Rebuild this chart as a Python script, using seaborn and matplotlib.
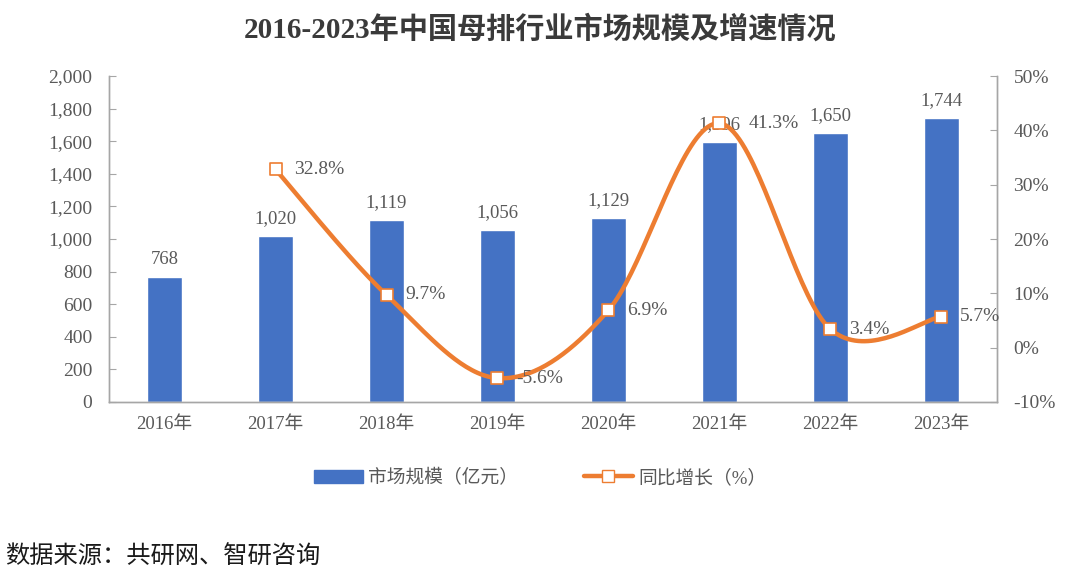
#import libraries
import numpy as np
import pandas as pd
import seaborn as sns
import matplotlib
matplotlib.use('Agg')
import matplotlib.pyplot as plt
from matplotlib.patches import Patch
from matplotlib.lines import Line2D

# data
years = ['2016年', '2017年', '2018年', '2019年', '2020年', '2021年', '2022年', '2023年']
market_size = [768, 1020, 1119, 1056, 1129, 1596, 1650, 1744]
growth_years = [1, 2, 3, 4, 5, 6, 7]
growth_pct = [32.8, 9.7, -5.6, 6.9, 41.3, 3.4, 5.7]

bar_color = '#4472C4'
line_color = '#ED7D31'
grey = '#595959'

sns.set_style('white')
fonts = ['Liberation Serif', 'Noto Sans CJK SC', 'DejaVu Sans']
plt.rcParams['font.family'] = fonts

df = pd.DataFrame({'year': years, 'size': market_size})

fig = plt.figure(figsize=(10.8, 5.78), dpi=100)
ax = fig.add_axes([0.101, 0.3045, 0.822, 0.564])

sns.barplot(data=df, x='year', y='size', color=bar_color, width=0.32,
            saturation=1, ax=ax)
ax.set_xlim(-0.5, 7.5)
ax.set_ylim(0, 2000)
ax.set_yticks(range(0, 2001, 200))
ax.set_yticklabels(['{:,}'.format(v) for v in range(0, 2001, 200)])
ax.set_xlabel('')
ax.set_ylabel('')

# bar labels
for i, v in enumerate(market_size):
    ax.text(i, v + 55, '{:,}'.format(v), ha='center', va='bottom',
            fontsize=13.5, color=grey)

# excel-like smoothed line (bezier through the points)
def smooth(xs, ys, n=40):
    pts = np.column_stack([xs, ys]).astype(float)
    out = []
    for i in range(len(pts) - 1):
        p0 = pts[i - 1] if i > 0 else pts[i]
        p1 = pts[i]
        p2 = pts[i + 1]
        p3 = pts[i + 2] if i + 2 < len(pts) else pts[i + 1]
        c1 = p1 + (p2 - p0) / 6
        c2 = p2 - (p3 - p1) / 6
        t = np.linspace(0, 1, n)[:, None]
        seg = ((1 - t) ** 3) * p1 + 3 * ((1 - t) ** 2) * t * c1 + \
              3 * (1 - t) * t ** 2 * c2 + t ** 3 * p2
        out.append(seg)
    out = np.vstack(out)
    return out[:, 0], out[:, 1]

ax2 = ax.twinx()
ax2.set_position(ax.get_position())
sx, sy = smooth(growth_years, growth_pct)
ax2.plot(sx, sy, color=line_color, lw=3.2, solid_capstyle='round', zorder=3)
sns.scatterplot(x=growth_years, y=growth_pct, marker='s', s=70,
                color='white', edgecolor=line_color, linewidth=1.2,
                ax=ax2, zorder=4)
ax2.set_ylim(-10, 50)
ax2.set_yticks(range(-10, 51, 10))
ax2.set_yticklabels(['{}%'.format(v) for v in range(-10, 51, 10)])
ax2.set_xlim(-0.5, 7.5)

for x, y in zip(growth_years, growth_pct):
    dx = 0.26 if x == 5 else 0.17
    ax2.text(x + dx, y, '{}%'.format(y), ha='left', va='center',
             fontsize=14, color=grey, zorder=5)

# axes styling
for a in (ax, ax2):
    a.spines['top'].set_visible(False)
    for side in ['left', 'right', 'bottom']:
        a.spines[side].set_color('#A6A6A6')
        a.spines[side].set_linewidth(1)
    a.tick_params(axis='y', direction='in', length=5, color='#A6A6A6',
                  labelsize=14, labelcolor=grey, pad=12)
ax.tick_params(axis='x', length=0, labelsize=13.5, labelcolor=grey, pad=10)

# legend
handles = [Patch(color=bar_color, label='市场规模（亿元）'),
           Line2D([0], [0], color=line_color, lw=3.2, marker='s',
                  markersize=8, markerfacecolor='white',
                  markeredgecolor=line_color, label='同比增长（%）')]
fig.legend(handles=handles, loc='center', bbox_to_anchor=(0.5, 0.173),
           ncol=2, frameon=False, fontsize=13.5, labelcolor=grey,
           handlelength=2.6, columnspacing=3.5, handletextpad=0.3)

fig.text(0.5, 0.95, '2016-2023年中国母排行业市场规模及增速情况', ha='center',
         va='center', fontsize=21, fontweight='bold', color='#3A3A3A')
fig.text(0.005, 0.035, '数据来源：共研网、智研咨询', ha='left', va='center',
         fontsize=17.5, color='#1A1A1A')

plt.savefig('out.png', dpi=100)
